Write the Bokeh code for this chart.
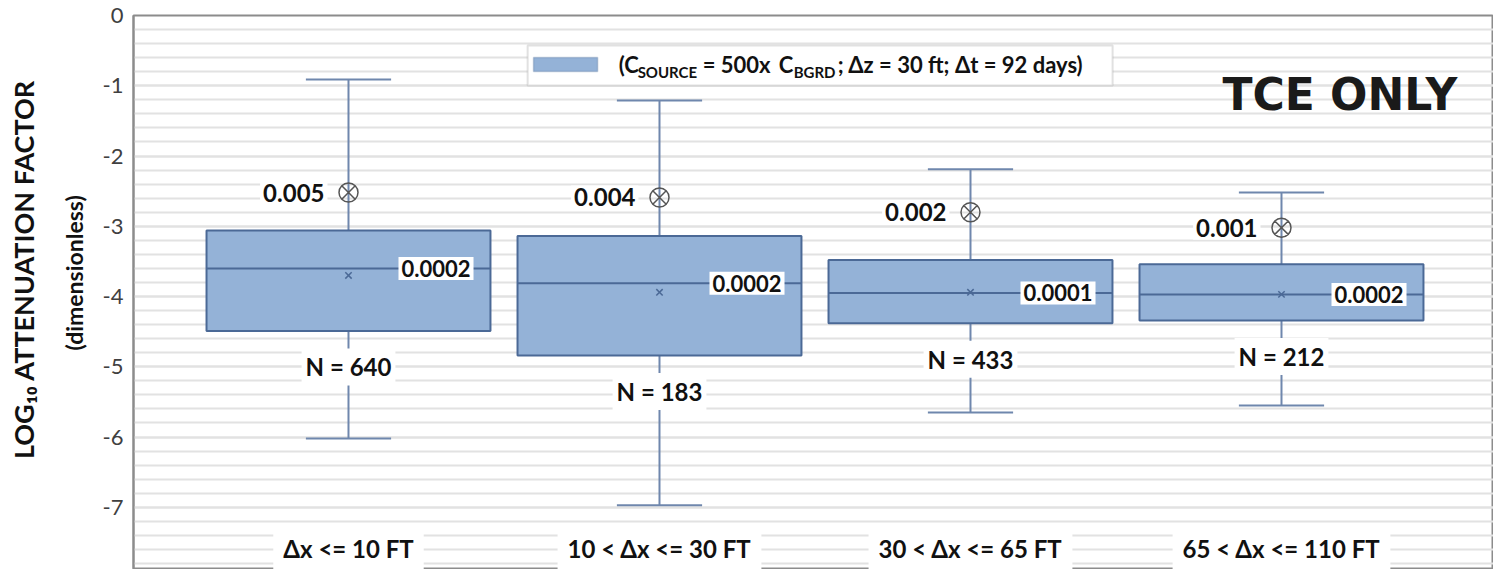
import numpy as np
from bokeh.plotting import figure
from bokeh.models import (ColumnDataSource, SingleIntervalTicker, FixedTicker, Range1d,
                          BoxAnnotation, Label, LinearAxis, PrintfTickFormatter)
from bokeh.core.properties import value
from bokeh.embed import file_html
from bokeh.resources import INLINE

# ---------------- data ----------------
categories = ["\u0394x <= 10 FT", "10 < \u0394x <= 30 FT", "30 < \u0394x <= 65 FT", "65 < \u0394x <= 110 FT"]
upper_whisker = [-0.91, -1.21, -2.19, -2.52]
q3 = [-3.06, -3.14, -3.48, -3.54]
median = [-3.60, -3.81, -3.95, -3.97]
mean = [-3.70, -3.94, -3.94, -3.97]
q1 = [-4.49, -4.84, -4.38, -4.34]
lower_whisker = [-6.02, -6.97, -5.65, -5.55]
highlight = [-2.52, -2.59, -2.80, -3.02]
highlight_labels = ["0.005", "0.004", "0.002", "0.001"]
median_labels = ["0.0002", "0.0002", "0.0001", "0.0002"]
n_labels = ["N = 640", "N = 183", "N = 433", "N = 212"]

xs = [1, 2, 3, 4]
BOX_W = 0.913
CAP_HALF = 0.137
CAT_LABEL_Y = -7.58

FONT = "Lato"
BOX_FILL = "#94b2d7"
BOX_LINE = "#4b6996"
WHISK = "#6f87ad"

src = ColumnDataSource(dict(
    x=xs, cat=categories, up=upper_whisker, q3=q3, med=median, mean=mean, q1=q1,
    low=lower_whisker, hi=highlight, hil=highlight_labels, medl=median_labels, nl=n_labels,
    xl=[x - BOX_W / 2 for x in xs], xr=[x + BOX_W / 2 for x in xs],
    cl=[x - CAP_HALF for x in xs], cr=[x + CAP_HALF for x in xs],
    caty=[CAT_LABEL_Y] * len(xs),
))

p = figure(width=1493, height=569, output_backend="svg", toolbar_location=None,
           x_range=Range1d(0.3087, 4.6817), y_range=Range1d(-7.886, 0),
           x_axis_location=None, min_border_left=133, min_border_top=15,
           min_border_bottom=0, min_border_right=0)
p.background_fill_color = "white"
p.outline_line_color = "#8c8c8c"
p.outline_line_width = 2

p.xgrid.visible = False
p.yaxis.ticker = SingleIntervalTicker(interval=1, num_minor_ticks=5)
p.ygrid.grid_line_color = "#e2e2e2"
p.ygrid.grid_line_width = 2
p.ygrid.minor_grid_line_color = "#e2e2e2"
p.ygrid.minor_grid_line_width = 2

ax = p.yaxis[0]
ax.formatter = PrintfTickFormatter(format="%d")
ax.axis_line_color = "#8c8c8c"
ax.axis_line_width = 2
ax.major_tick_line_color = None
ax.minor_tick_line_color = None
ax.major_tick_out = 0
ax.minor_tick_out = 0
ax.major_label_text_font = FONT
ax.major_label_text_font_size = "22px"
ax.major_label_text_color = "#404040"
ax.major_label_standoff = 10
ax.axis_label = "\u00a0" * 7 + "(dimensionless)"
ax.axis_label_text_font = FONT
ax.axis_label_text_font_style = "bold"
ax.axis_label_text_font_size = "23px"
ax.axis_label_text_color = "#111111"
ax.axis_label_standoff = 12

ax2 = LinearAxis(ticker=FixedTicker(ticks=[]),
                 axis_label="\u00a0" * 7 + "LOG\u2081\u2080 ATTENUATION FACTOR",
                 axis_line_color=None, major_tick_line_color=None, minor_tick_line_color=None,
                 major_tick_out=0, minor_tick_out=0, major_label_standoff=0,
                 axis_label_standoff=17, axis_label_text_font=FONT,
                 axis_label_text_font_style="bold", axis_label_text_font_size="27px",
                 axis_label_text_color="#111111")
p.add_layout(ax2, "left")

# whiskers
p.segment(x0="x", y0="q3", x1="x", y1="up", source=src, line_color=WHISK, line_width=2)
p.segment(x0="x", y0="q1", x1="x", y1="low", source=src, line_color=WHISK, line_width=2)
p.segment(x0="cl", y0="up", x1="cr", y1="up", source=src, line_color=WHISK, line_width=2)
p.segment(x0="cl", y0="low", x1="cr", y1="low", source=src, line_color=WHISK, line_width=2)

# boxes
p.vbar(x="x", width=BOX_W, top="q3", bottom="q1", source=src,
       fill_color=BOX_FILL, line_color=BOX_LINE, line_width=2)
p.segment(x0="xl", y0="med", x1="xr", y1="med", source=src, line_color=BOX_LINE, line_width=2)
p.scatter(x="x", y="mean", source=src, marker="x", size=9, line_color=BOX_LINE, line_width=1.5)

# highlight markers
p.scatter(x="x", y="hi", source=src, marker="circle_x", size=19, fill_alpha=0,
          line_color="#555555", line_width=1.5)
p.text(x="x", y="hi", text="hil", source=src, x_offset=-21, text_align="right",
       text_baseline="middle", text_font=value(FONT), text_font_style="bold",
       text_font_size="24px", text_color="#111111",
       background_fill_color="white", padding=3)

# median labels
p.text(x="x", y="med", text="medl", source=src, x_offset=50, text_align="left",
       text_baseline="middle", text_font=value(FONT), text_font_style="bold",
       text_font_size="22px", text_color="#111111",
       background_fill_color="white", padding=3)

# N labels
p.text(x="x", y="q1", text="nl", source=src, y_offset=36, text_align="center",
       text_baseline="middle", text_font=value(FONT), text_font_style="bold",
       text_font_size="24px", text_color="#111111",
       background_fill_color="white", padding=4)

# category labels
p.text(x="x", y="caty", text="cat", source=src, text_align="center",
       text_baseline="middle", text_font=value(FONT), text_font_style="bold",
       text_font_size="24px", text_color="#111111",
       background_fill_color="white", padding=10)

# legend (manual, for subscripts)
p.add_layout(BoxAnnotation(left=1.576, right=3.457, top=-0.427, bottom=-0.996,
                           fill_color="white", fill_alpha=1, line_color="#9a9a9a", line_width=2))
p.add_layout(BoxAnnotation(left=1.595, right=1.801, top=-0.597, bottom=-0.797,
                           fill_color=BOX_FILL, fill_alpha=1, line_color=BOX_LINE, line_width=1.5))
LX = 1.576
MAIN_Y = -0.70
SUB_Y = -0.80
leg_pieces = [
    ("(C", 91, "22px", MAIN_Y),
    ("SOURCE", 110, "15px", SUB_Y),
    ("= 500x", 175, "22px", MAIN_Y),
    ("C", 251, "22px", MAIN_Y),
    ("BGRD", 266, "15px", SUB_Y),
    ("; \u0394z = 30 ft; \u0394t = 92 days)", 310, "22px", MAIN_Y),
]
for txt, off, fs, yy in leg_pieces:
    p.add_layout(Label(x=LX, y=yy, x_offset=off, text=txt, text_font=FONT,
                       text_font_style="bold", text_font_size=fs, text_color="#111111",
                       text_baseline="middle", text_align="left"))

p.add_layout(Label(x=3.810, y=-1.12, text="TCE ONLY", text_font="DejaVu Sans",
                   text_font_style="bold", text_font_size="44px", text_color="#1a1a1a",
                   text_baseline="middle", text_align="left"))

open("out.html", "w").write(file_html(p, INLINE))
